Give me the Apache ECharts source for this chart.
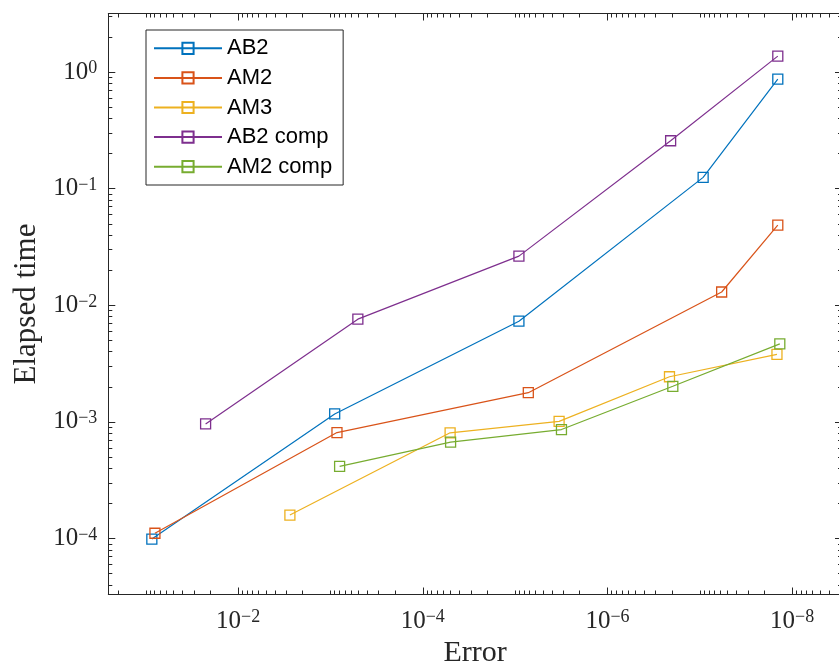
<!DOCTYPE html>
<html><head><meta charset="utf-8">
<script src="https://cdn.jsdelivr.net/npm/echarts@6/dist/echarts.min.js"></script>
<style>html,body{margin:0;padding:0;background:#fff}#c{width:839px;height:664px}</style>
</head><body><div id="c"></div>
<script>
// ---- data ----
const seriesNames = ['AB2', 'AM2', 'AM3', 'AB2 comp', 'AM2 comp'];
const seriesColors = ['#0072BD', '#D95319', '#EDB120', '#7E2F8E', '#77AC30'];

const errAB2  = [8.6e-2, 9.0e-4, 9.1e-6, 9.2e-8, 1.43e-8];
const timeAB2 = [9.9e-5, 1.17e-3, 7.3e-3, 0.125, 0.87];

const errAM2  = [7.96e-2, 8.5e-4, 7.2e-6, 5.8e-8, 1.43e-8];
const timeAM2 = [1.11e-4, 8.1e-4, 1.78e-3, 1.30e-2, 4.87e-2];

const errAM3  = [2.75e-3, 5.06e-5, 3.34e-6, 2.13e-7, 1.46e-8];
const timeAM3 = [1.59e-4, 8.06e-4, 1.01e-3, 2.44e-3, 3.79e-3];

const errAB2comp  = [2.25e-2, 5.05e-4, 9.1e-6, 2.07e-7, 1.43e-8];
const timeAB2comp = [9.6e-4, 7.6e-3, 2.64e-2, 0.2575, 1.37];

const errAM2comp  = [7.96e-4, 5.0e-5, 3.15e-6, 1.96e-7, 1.36e-8];
const timeAM2comp = [4.15e-4, 6.7e-4, 8.6e-4, 2.02e-3, 4.67e-3];

// tick labels (exponents of ten) and axis limits (exponents)
const xTickExps = [-8, -6, -4, -2];
const yTickExps = [-4, -3, -2, -1, 0];
const xLimExp = [-8.54, -0.594];
const yLimExp = [-4.48, 0.502];

const xName = 'Error';
const yName = 'Elapsed time';

// ---- chart ----
const AX = '#262626';
const SERIF = "'Liberation Serif', 'DejaVu Serif', serif";
const SANS = "'Liberation Sans', Arial, sans-serif";

function minorTicks(lim, majors) {
  const out = [];
  for (let n = Math.floor(lim[0]) - 1; n <= Math.ceil(lim[1]); n++) {
    for (let k = 1; k <= 9; k++) {
      if (k === 1 && majors.indexOf(n) >= 0) continue;
      const e = n + Math.log10(k);
      if (e > lim[0] && e < lim[1]) out.push(e);
    }
  }
  return out;
}

function powLabel(v) {
  const n = Math.round(v);
  return '{b|10}{s|' + (n < 0 ? '\u2212' : '') + Math.abs(n) + '}';
}
const labelRich = {
  b: { fontFamily: SERIF, fontSize: 25, lineHeight: 25, color: AX },
  s: { fontFamily: SERIF, fontSize: 18, lineHeight: 11, verticalAlign: 'top', color: AX }
};

function deco(dim, lim, position, opts) {
  const o = {
    type: 'value', min: lim[0], max: lim[1], position: position,
    inverse: dim === 'x',
    splitLine: { show: false },
    axisLine: { show: false, onZero: false },
    axisTick: { show: false },
    axisLabel: { show: false },
    silent: true, z: 5
  };
  return Object.assign(o, opts);
}

const xMinor = minorTicks(xLimExp, xTickExps);
const yMinor = minorTicks(yLimExp, yTickExps);

const xAxes = [
  { type: 'log', logBase: 10, min: Math.pow(10, xLimExp[0]), max: Math.pow(10, xLimExp[1]),
    inverse: true, show: false, position: 'bottom',
    axisLine: { onZero: false }, splitLine: { show: false } },
  deco('x', xLimExp, 'bottom', {
    axisLine: { show: true, onZero: false, lineStyle: { color: AX, width: 1 } },
    axisTick: { show: true, inside: true, length: 7, customValues: xTickExps, lineStyle: { color: AX, width: 1 } },
    axisLabel: { show: true, margin: 14, customValues: xTickExps, formatter: powLabel, rich: labelRich },
    name: xName, nameLocation: 'middle', nameGap: 43,
    nameTextStyle: { fontFamily: SERIF, fontSize: 30, color: AX }
  }),
  deco('x', xLimExp, 'bottom', {
    axisTick: { show: true, inside: true, length: 4, customValues: xMinor, lineStyle: { color: AX, width: 1 } }
  }),
  deco('x', xLimExp, 'top', {
    axisLine: { show: true, onZero: false, lineStyle: { color: AX, width: 1 } },
    axisTick: { show: true, inside: true, length: 7, customValues: xTickExps, lineStyle: { color: AX, width: 1 } }
  }),
  deco('x', xLimExp, 'top', {
    axisTick: { show: true, inside: true, length: 4, customValues: xMinor, lineStyle: { color: AX, width: 1 } }
  })
];

const yAxes = [
  { type: 'log', logBase: 10, min: Math.pow(10, yLimExp[0]), max: Math.pow(10, yLimExp[1]),
    show: false, position: 'left',
    axisLine: { onZero: false }, splitLine: { show: false } },
  deco('y', yLimExp, 'left', {
    axisLine: { show: true, onZero: false, lineStyle: { color: AX, width: 1 } },
    axisTick: { show: true, inside: true, length: 7, customValues: yTickExps, lineStyle: { color: AX, width: 1 } },
    axisLabel: { show: true, margin: 11, customValues: yTickExps, formatter: powLabel, rich: labelRich },
    name: yName, nameLocation: 'middle', nameGap: 64,
    nameTextStyle: { fontFamily: SERIF, fontSize: 31, color: AX }
  }),
  deco('y', yLimExp, 'left', {
    axisTick: { show: true, inside: true, length: 4, customValues: yMinor, lineStyle: { color: AX, width: 1 } }
  }),
  deco('y', yLimExp, 'right', {
    axisLine: { show: true, onZero: false, lineStyle: { color: AX, width: 1 } },
    axisTick: { show: true, inside: true, length: 7, customValues: yTickExps, lineStyle: { color: AX, width: 1 } }
  }),
  deco('y', yLimExp, 'right', {
    axisTick: { show: true, inside: true, length: 4, customValues: yMinor, lineStyle: { color: AX, width: 1 } }
  })
];

const seriesErr = [errAB2, errAM2, errAM3, errAB2comp, errAM2comp];
const seriesTime = [timeAB2, timeAM2, timeAM3, timeAB2comp, timeAM2comp];

const series = seriesNames.map(function (name, i) {
  const c = seriesColors[i];
  return {
    name: name, type: 'line', xAxisIndex: 0, yAxisIndex: 0,
    data: seriesErr[i].map(function (x, j) { return [x, seriesTime[i][j]]; }),
    symbol: 'rect', symbolSize: 10,
    lineStyle: { color: c, width: 1.2 },
    itemStyle: { color: 'rgba(255,255,255,0)', borderColor: c, borderWidth: 1.3 },
    emphasis: { disabled: true },
    z: 2 + i
  };
});

const chart = echarts.init(document.getElementById('c'), null, { renderer: 'canvas' });
chart.setOption({
  animation: false,
  backgroundColor: '#ffffff',
  grid: { left: 108.3, top: 13.5, right: -3, bottom: 69.5, containLabel: false, outerBoundsMode: 'none' },
  legend: {
    data: seriesNames, orient: 'vertical', left: 146, top: 30,
    padding: [7.3, 11, 7.3, 7], itemWidth: 68, itemHeight: 14, itemGap: 7.6,
    backgroundColor: '#ffffff', borderColor: AX, borderWidth: 1,
    textStyle: { fontFamily: SANS, fontSize: 22, color: '#000' },
    selectedMode: false, z: 20
  },
  xAxis: xAxes,
  yAxis: yAxes,
  series: series
});
</script>
</body></html>
